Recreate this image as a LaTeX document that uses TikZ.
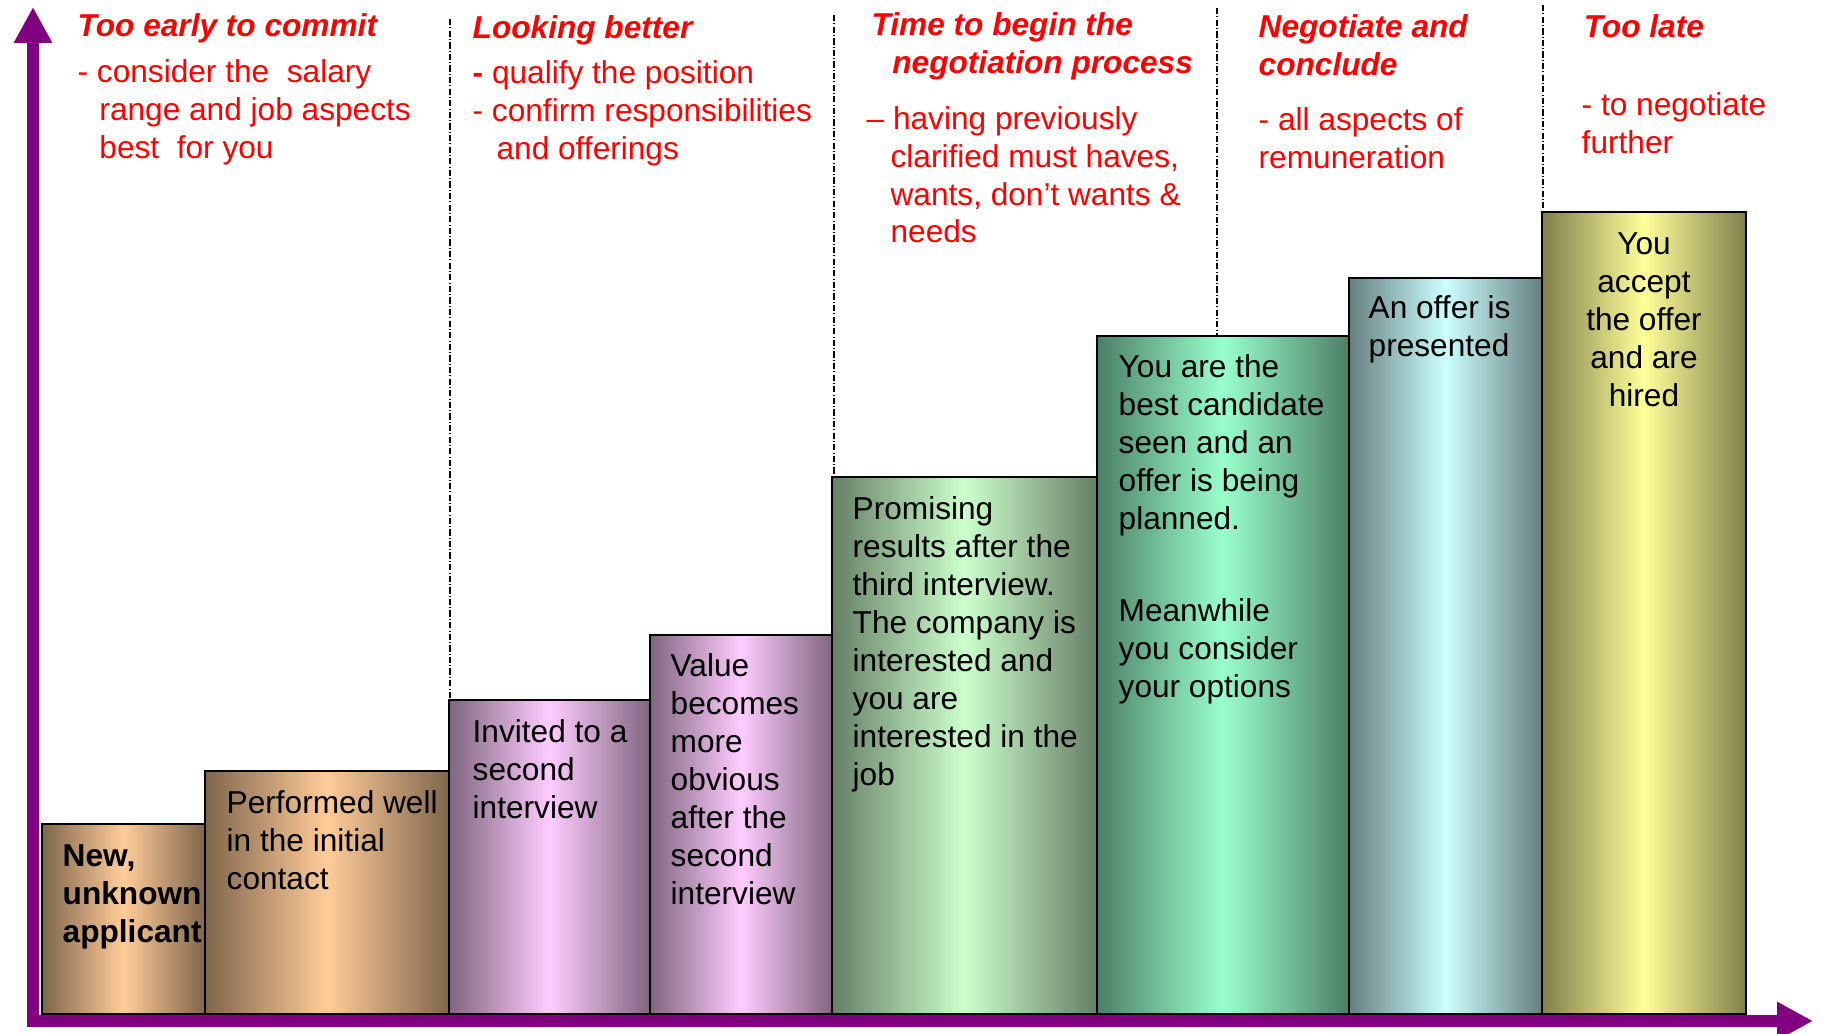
\documentclass[tikz,border=0pt]{standalone}
\usepackage{fontspec}
\setmainfont{Liberation Sans}
\usepackage{tikz}
\usetikzlibrary{arrows.meta}

\definecolor{axispurple}{HTML}{800080}
\definecolor{peachlight}{HTML}{FFCC99}
\definecolor{peachdark}{HTML}{7F664C}
\definecolor{pinklight}{HTML}{FFCCFF}
\definecolor{pinkdark}{HTML}{7F667F}
\definecolor{greenlight}{HTML}{CCFFCC}
\definecolor{greendark}{HTML}{667F66}
\definecolor{mintlight}{HTML}{99FFCC}
\definecolor{mintdark}{HTML}{4C7F66}
\definecolor{cyanlight}{HTML}{CCFFFF}
\definecolor{cyandark}{HTML}{667F7F}
\definecolor{yellowlight}{HTML}{FFFF99}
\definecolor{yellowdark}{HTML}{7F7F4C}

\begin{document}
\begin{tikzpicture}[font=\fontsize{9pt}{10.8pt}\selectfont,
  barbox/.style={draw=black, line width=0.6pt},
  peach/.style={barbox, left color=peachdark, right color=peachdark, middle color=peachlight},
  pink/.style={barbox, left color=pinkdark, right color=pinkdark, middle color=pinklight},
  lightgreen/.style={barbox, left color=greendark, right color=greendark, middle color=greenlight},
  mint/.style={barbox, left color=mintdark, right color=mintdark, middle color=mintlight},
  paleblue/.style={barbox, left color=cyandark, right color=cyandark, middle color=cyanlight},
  paleyellow/.style={barbox, left color=yellowdark, right color=yellowdark, middle color=yellowlight},
  sepline/.style={black, line width=0.5pt, dash pattern=on 1.8pt off 0.6pt on 0.3pt off 0.6pt},
  phase/.style={anchor=north west, align=left, inner sep=0pt, text=red},
  bartext/.style={anchor=north west, align=left, inner sep=0pt},
  axisline/.style={axispurple, line width=3.3pt, line join=miter}]
\useasboundingbox (0,0) rectangle (18.23,10.34);

% phase separators
\draw[sepline] (4.50,10.15) -- (4.50,3.34);
\draw[sepline] (8.34,10.19) -- (8.34,5.57);
\draw[sepline] (12.17,10.26) -- (12.17,6.98);
\draw[sepline] (15.43,10.29) -- (15.43,8.22);

% the steps
\draw[peach] (0.42,0.20) rectangle (2.05,2.10);
\draw[peach] (2.05,0.20) rectangle (4.49,2.63);
\draw[pink] (4.49,0.20) rectangle (6.50,3.34);
\draw[pink] (6.50,0.20) rectangle (8.32,3.99);
\draw[lightgreen] (8.32,0.20) rectangle (10.97,5.57);
\draw[mint] (10.97,0.20) rectangle (13.49,6.98);
\draw[paleblue] (13.49,0.20) rectangle (15.42,7.56);
\draw[paleyellow] (15.42,0.20) rectangle (17.46,8.22);

% text on the steps
\node[bartext] (newapp) at (0.62,1.90) {\textbf{New,}\\\textbf{unknown}\\\textbf{applicant}};
\node[bartext] (performed) at (2.26,2.44) {Performed well\\in the initial\\contact};
\node[bartext] (invited) at (4.72,3.15) {Invited to a\\second\\interview};
\node[bartext] (value) at (6.70,3.81) {Value\\becomes\\more\\obvious\\after the\\second\\interview};
\node[bartext] (promising) at (8.52,5.38) {Promising\\results after the\\third interview.\\The company is\\interested and\\you are\\interested in the\\job};
\node[bartext] (bestcand) at (11.18,6.80) {You are the\\best candidate\\seen and an\\offer is being\\planned.\\[15.5pt]Meanwhile\\you consider\\your options};
\node[bartext] (offer) at (13.68,7.39) {An offer is\\presented};
\node[bartext, anchor=north, align=center] (hired) at (16.44,8.02) {You\\accept\\the offer\\and are\\hired};

% phase headings
\node[phase] (early) at (0.77,10.21) {\textbf{\textit{Too early to commit}}\\[2.3pt]- consider the\ \ salary\\\hspace*{6.2pt}range and job aspects\\\hspace*{6.2pt}best\ \ for you};
\node[phase] (better) at (4.72,10.19) {\textbf{\textit{Looking better}}\\[2pt]\textbf{-} qualify the position\\- confirm responsibilities\\\hspace*{6.8pt}and offerings};
\node[phase] (begin) at (8.66,10.22) {\hspace*{1.4pt}\textbf{\textit{Time to begin the}}\\\hspace*{7.3pt}\textbf{\textit{negotiation process}}\\[5pt]-- having previously\\\hspace*{6.8pt}clarified must haves,\\\hspace*{6.8pt}wants, don’t wants \&\\\hspace*{6.8pt}needs};
\node[phase] (conclude) at (12.58,10.20) {\textbf{\textit{Negotiate and}}\\\textbf{\textit{conclude}}\\[4.8pt]- all aspects of\\remuneration};
\node[phase] (late) at (15.81,10.20) {\hspace*{0.6pt}\textbf{\textit{Too late}}\\[11.4pt]- to negotiate\\further};

% axes
\coordinate (origin) at (0.33,0.13);
\coordinate (ytip) at (0.33,10.27);
\coordinate (xtip) at (18.13,0.13);
\draw[axisline, {Triangle[length=3.6mm,width=3.6mm]}-{Triangle[length=3.6mm,width=3.6mm]}] (ytip) -- (origin) -- (xtip);

\end{tikzpicture}
\end{document}
